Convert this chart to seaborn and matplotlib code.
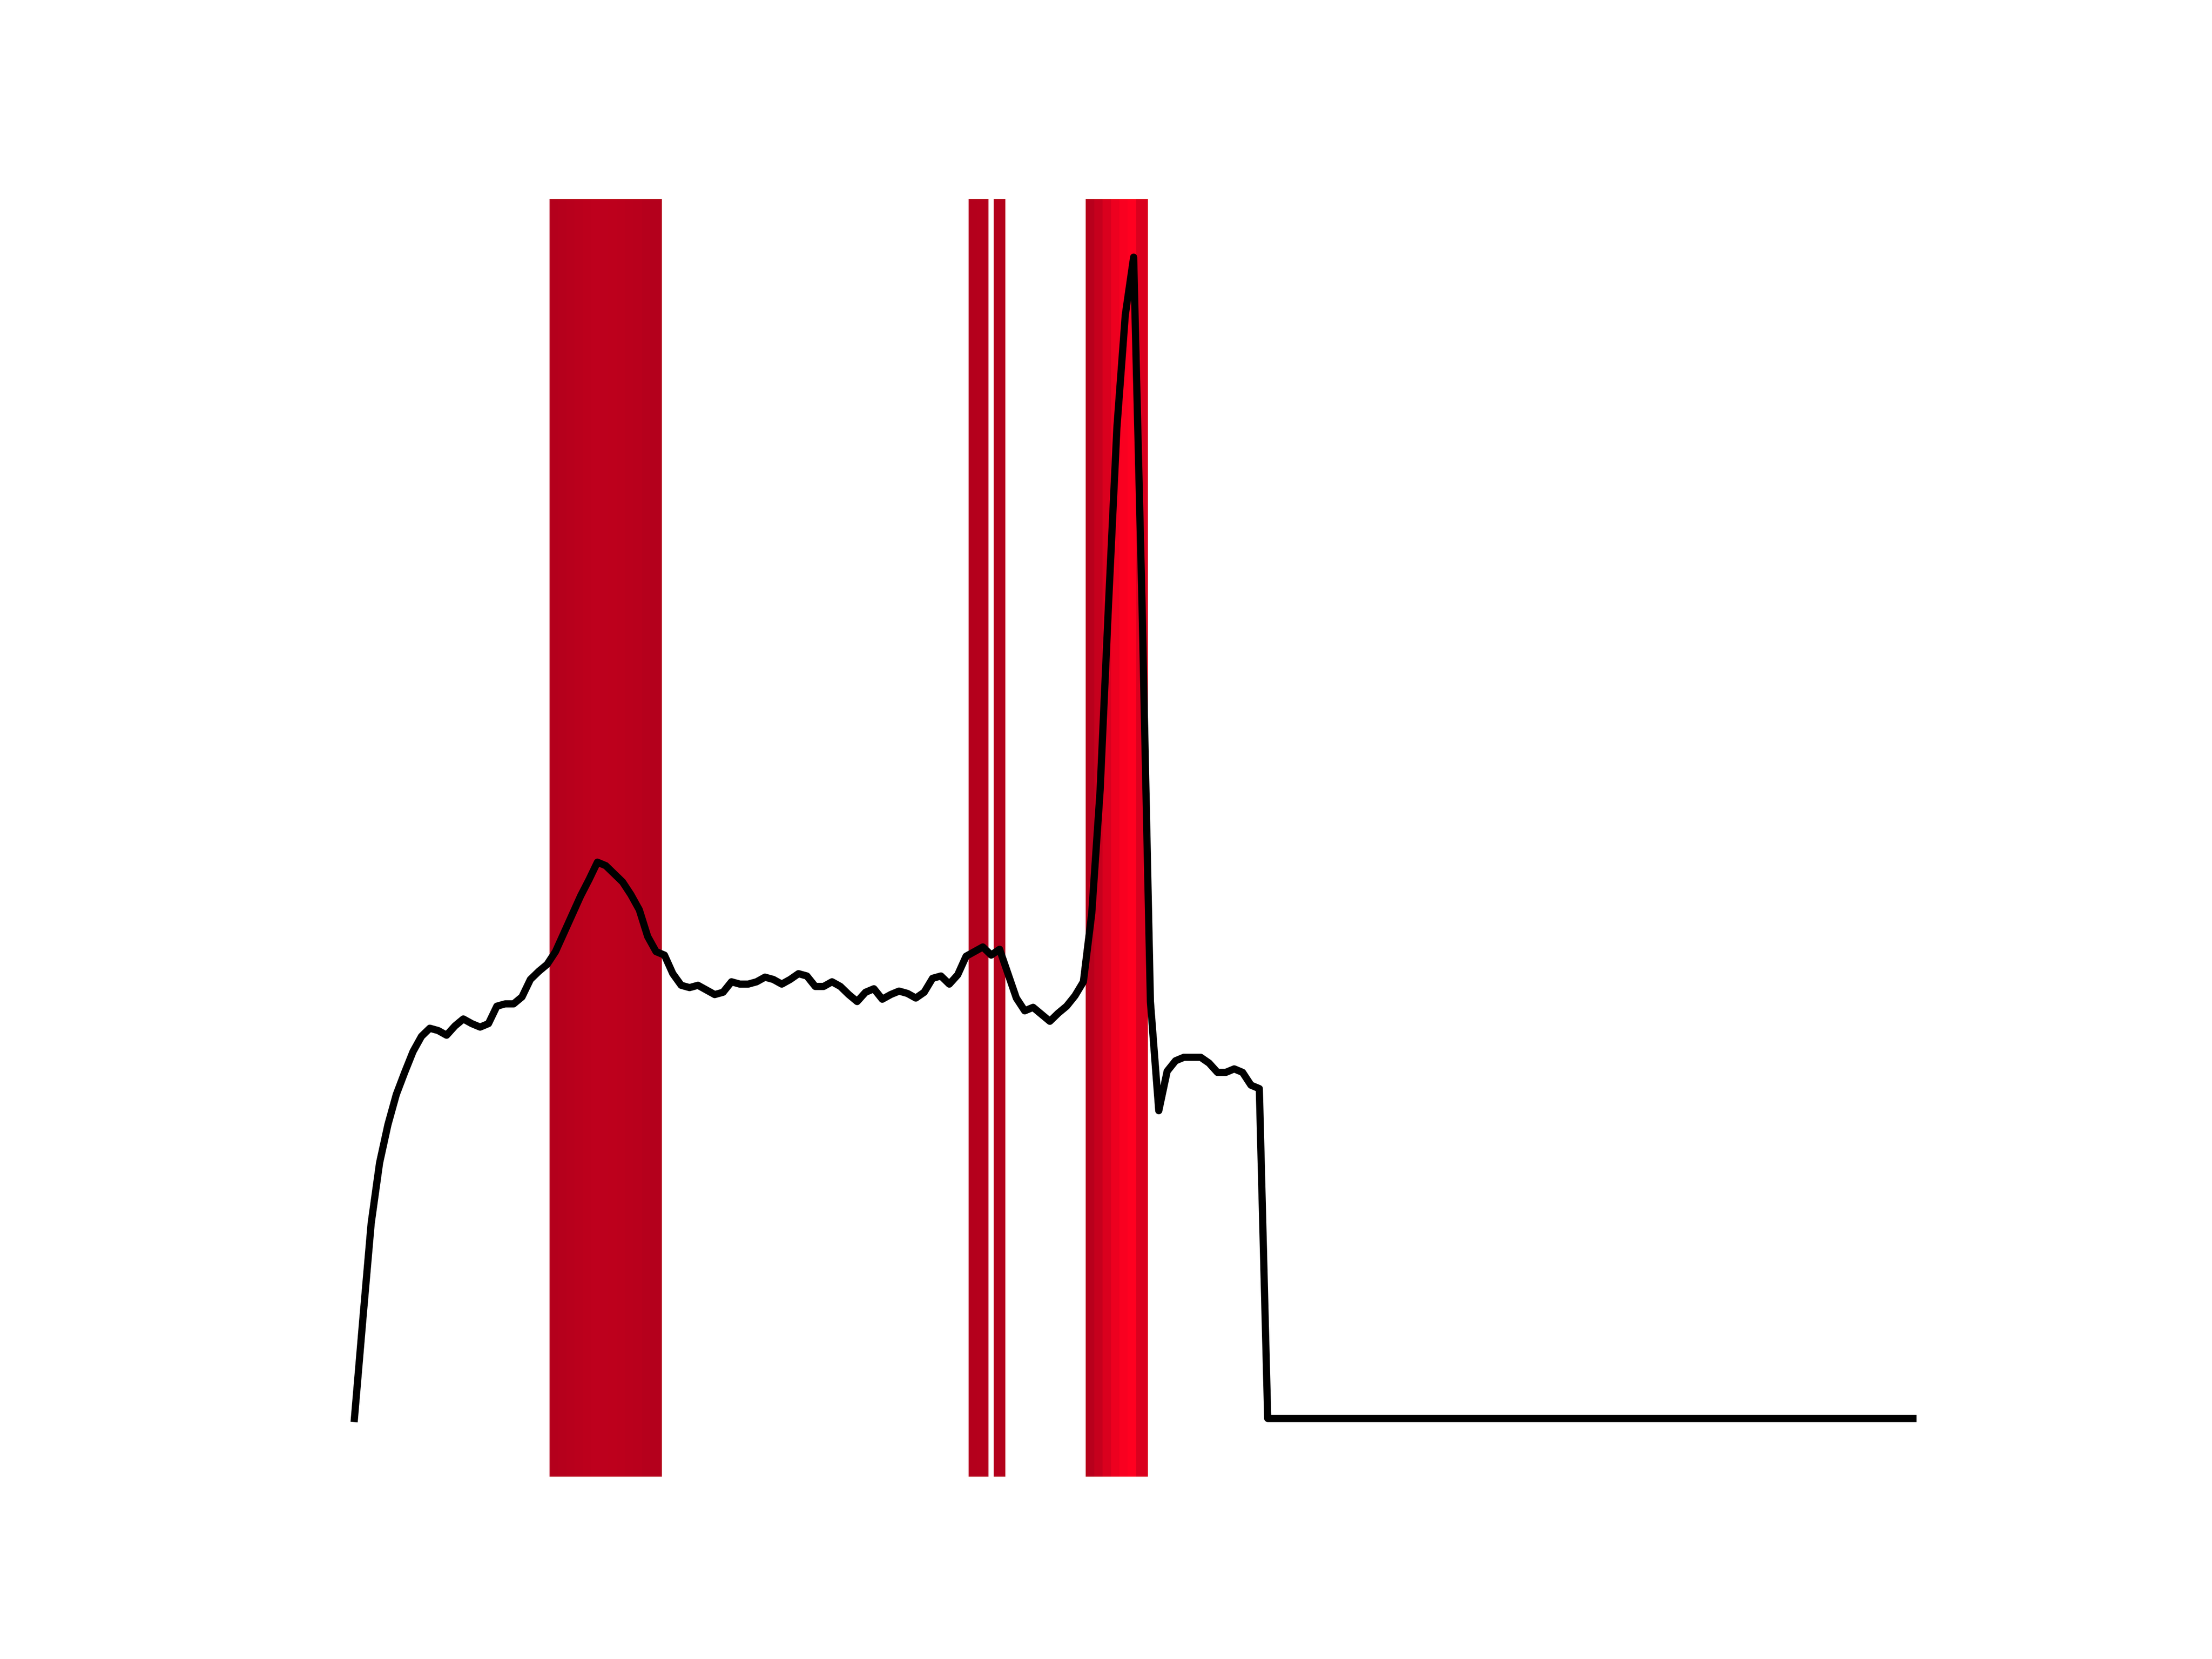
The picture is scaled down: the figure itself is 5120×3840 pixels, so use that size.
import matplotlib
matplotlib.use("Agg")
import matplotlib.pyplot as plt
import seaborn as sns
from matplotlib.colors import LinearSegmentedColormap, Normalize

# signal level per frame
frames = list(range(187))
level = [
    0.0, 0.085, 0.168, 0.220, 0.253, 0.279, 0.298, 0.316, 0.329, 0.336,
    0.334, 0.330, 0.338, 0.344, 0.340, 0.337, 0.340, 0.355, 0.357, 0.357,
    0.363, 0.378, 0.385, 0.391, 0.402, 0.418, 0.434, 0.450, 0.464, 0.479,
    0.476, 0.469, 0.462, 0.451, 0.438, 0.415, 0.402, 0.399, 0.383, 0.373,
    0.371, 0.373, 0.369, 0.365, 0.367, 0.376, 0.374, 0.374, 0.376, 0.380,
    0.378, 0.374, 0.378, 0.383, 0.381, 0.372, 0.372, 0.376, 0.372, 0.365,
    0.359, 0.367, 0.370, 0.361, 0.365, 0.368, 0.366, 0.362, 0.367, 0.379,
    0.381, 0.374, 0.382, 0.398, 0.402, 0.406, 0.399, 0.404, 0.383, 0.362,
    0.351, 0.354, 0.348, 0.342, 0.349, 0.355, 0.364, 0.376, 0.435, 0.541,
    0.701, 0.853, 0.950, 1.000, 0.701, 0.359, 0.265, 0.299, 0.308, 0.311,
    0.311, 0.311, 0.306, 0.298, 0.298, 0.301, 0.298, 0.287, 0.284,
    0.0, 0.0, 0.0, 0.0, 0.0, 0.0, 0.0, 0.0, 0.0, 0.0,
    0.0, 0.0, 0.0, 0.0, 0.0, 0.0, 0.0, 0.0, 0.0, 0.0,
    0.0, 0.0, 0.0, 0.0, 0.0, 0.0, 0.0, 0.0, 0.0, 0.0,
    0.0, 0.0, 0.0, 0.0, 0.0, 0.0, 0.0, 0.0, 0.0, 0.0,
    0.0, 0.0, 0.0, 0.0, 0.0, 0.0, 0.0, 0.0, 0.0, 0.0,
    0.0, 0.0, 0.0, 0.0, 0.0, 0.0, 0.0, 0.0, 0.0, 0.0,
    0.0, 0.0, 0.0, 0.0, 0.0, 0.0, 0.0, 0.0, 0.0, 0.0,
    0.0, 0.0, 0.0, 0.0, 0.0, 0.0, 0.0, 0.0,
]
threshold = 0.4

cmap = LinearSegmentedColormap.from_list("hot_red", ["#b4001c", "#ff0020"])
norm = Normalize(vmin=threshold, vmax=max(level))

fig = plt.figure(figsize=(6.4, 4.8))
ax = fig.add_subplot(111)

# highlight frames above the threshold
for f, v in zip(frames, level):
    if v > threshold:
        ax.axvspan(f - 0.7, f + 0.7, color=cmap(norm(v)), lw=0)

sns.lineplot(x=frames, y=level, color="black", linewidth=1.5, ax=ax)
ax.axis("off")

fig.savefig("out.png", dpi=800)
